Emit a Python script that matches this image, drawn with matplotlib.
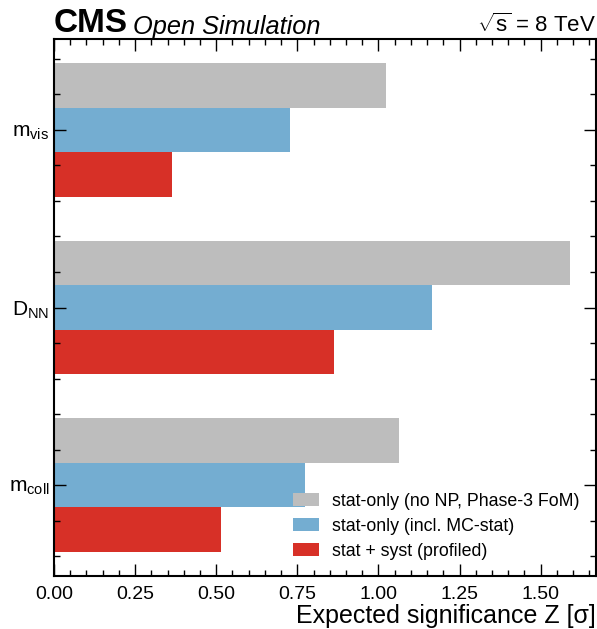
import matplotlib
matplotlib.use("Agg")
import matplotlib.pyplot as plt
import numpy as np
from matplotlib.ticker import AutoMinorLocator, MultipleLocator, FormatStrFormatter

categories = [r"$\mathregular{m_{vis}}$", r"$\mathregular{D_{NN}}$", r"$\mathregular{m_{coll}}$"]
series_labels = ["stat-only (no NP, Phase-3 FoM)", "stat-only (incl. MC-stat)", "stat + syst (profiled)"]
z_stat_nonp = [1.024, 1.591, 1.062]
z_stat_mc = [0.726, 1.166, 0.775]
z_syst = [0.363, 0.862, 0.514]
colors = ["#bdbdbd", "#74add1", "#d73027"]

plt.rcParams['font.family'] = ['Liberation Sans', 'DejaVu Sans']
plt.rcParams['mathtext.fontset'] = 'custom'
plt.rcParams['mathtext.rm'] = 'Liberation Sans'
plt.rcParams['mathtext.it'] = 'Liberation Sans:italic'

fig = plt.figure(figsize=(5.97, 6.29), dpi=100)
ax = fig.add_axes([54/597, 1-576/629, (596-54)/597, (576-39)/629])

y = np.arange(len(categories))
h = 0.25
for i, (vals, lab, c) in enumerate(zip([z_stat_nonp, z_stat_mc, z_syst], series_labels, colors)):
    ax.barh(y + (i - 1) * h, vals, height=h, color=c, label=lab)

ax.set_yticks(y)
ax.set_yticklabels(categories)
ax.invert_yaxis()
ax.xaxis.set_major_locator(MultipleLocator(0.25))
ax.xaxis.set_major_formatter(FormatStrFormatter('%.2f'))
ax.xaxis.set_minor_locator(AutoMinorLocator(5))
ax.yaxis.set_minor_locator(AutoMinorLocator(5))
ax.tick_params(which='both', direction='in', top=True, right=True, width=1)
ax.tick_params(which='major', length=8.5)
ax.tick_params(which='minor', length=4.3)
ax.tick_params(axis='x', labelsize=14, pad=7)
ax.tick_params(axis='y', labelsize=15)
for s in ax.spines.values():
    s.set_linewidth(1.5)

ax.set_xlabel("Expected significance Z [σ]", fontsize=18, loc='right', labelpad=1)
ax.legend(loc='lower right', frameon=False, fontsize=12.8, handlelength=1.5, handleheight=0.72,
          labelspacing=0.45, handletextpad=0.75, borderaxespad=0.5)

ax.text(0.0, 1.0, "CMS", transform=ax.transAxes, fontsize=24, fontweight='bold',
        va='bottom', ha='left')
ax.text(0.145, 1.0, "Open Simulation", transform=ax.transAxes, fontsize=18.3, style='italic',
        va='bottom', ha='left')
ax.text(1.0, 1.003, r"$\sqrt{\mathregular{s}}$ = 8 TeV", transform=ax.transAxes, fontsize=16,
        va='bottom', ha='right')

fig.savefig("out.png", dpi=100)
